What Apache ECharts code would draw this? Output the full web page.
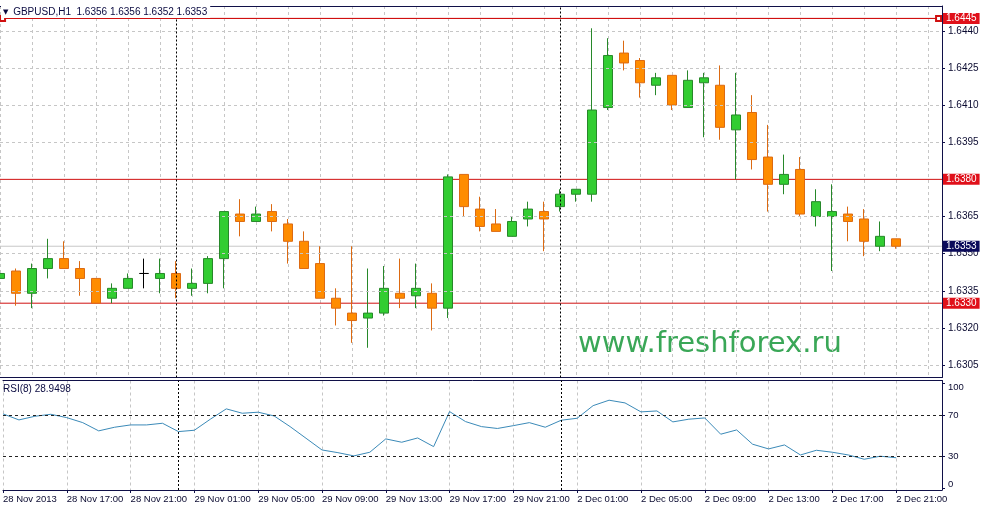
<!DOCTYPE html>
<html><head><meta charset="utf-8">
<script src="https://cdn.jsdelivr.net/npm/echarts@6/dist/echarts.min.js"></script>
<style>html,body{margin:0;padding:0;background:#fff}#c{width:983px;height:509px}</style>
</head><body><div id="c"></div>
<script>
// ---- data (GBPUSD H1, 28 Nov 13:00 .. 2 Dec 21:00) ----
const opens = [1.6340,1.6343,1.6334,1.6344,1.6348,1.6344,1.6340,1.6332,1.6336,1.6342,
 1.6340,1.6342,1.6336,1.6338,1.6348,1.6366,1.6363,1.6367,1.6362,1.6355,
 1.6346,1.6332,1.6326,1.6324,1.6326,1.6334,1.6333,1.6334,1.6328,1.6382,
 1.6368,1.6362,1.6357,1.6364,1.6367,1.6369,1.6374,1.6374,1.6409,1.6431,
 1.6428,1.6418,1.6422,1.6409,1.6419,1.6418,1.6400,1.6407,1.6389,1.6378,
 1.6384,1.6365,1.6365,1.6366,1.6364,1.6353,1.6356];
const closes = [1.6342,1.6334,1.6344,1.6348,1.6344,1.6340,1.6330,1.6336,1.6340,1.6342,
 1.6342,1.6336,1.6338,1.6348,1.6367,1.6363,1.6366,1.6363,1.6355,1.6344,
 1.6332,1.6328,1.6323,1.6326,1.6336,1.6332,1.6336,1.6328,1.6381,1.6369,
 1.6361,1.6359,1.6363,1.6368,1.6364,1.6374,1.6376,1.6408,1.6430,1.6427,
 1.6419,1.6421,1.6410,1.6420,1.6421,1.6401,1.6406,1.6388,1.6378,1.6382,
 1.6366,1.6371,1.6367,1.6363,1.6355,1.6357,1.6353];
const lows = [1.6328,1.6329,1.6328,1.6340,1.6344,1.6333,1.6330,1.6330,1.6336,1.6336,
 1.6334,1.6332,1.6333,1.6334,1.6336,1.6357,1.6363,1.6359,1.6346,1.6344,
 1.6332,1.6321,1.6314,1.6312,1.6325,1.6328,1.6328,1.6319,1.6324,1.6365,
 1.6359,1.6359,1.6357,1.6361,1.6351,1.6367,1.6371,1.6371,1.6408,1.6424,
 1.6413,1.6414,1.6408,1.6409,1.6397,1.6396,1.6380,1.6384,1.6367,1.6374,
 1.6365,1.6361,1.6343,1.6355,1.6349,1.6351,1.6352];
const highs = [1.6352,1.6344,1.6346,1.6356,1.6355,1.6347,1.6340,1.6338,1.6342,1.6348,
 1.6348,1.6347,1.6344,1.6349,1.6367,1.6372,1.6369,1.6370,1.6364,1.6359,
 1.6353,1.6336,1.6353,1.6344,1.6345,1.6348,1.6346,1.6338,1.6382,1.6382,
 1.6373,1.6368,1.6365,1.6371,1.6371,1.6376,1.6376,1.6441,1.6437,1.6436,
 1.6429,1.6423,1.6422,1.6424,1.6423,1.6426,1.6423,1.6414,1.6402,1.6390,
 1.6389,1.6376,1.6378,1.6369,1.6368,1.6363,1.6356];
const rsi = [71,65.2,68.7,70.6,67.4,62.6,54.7,58.2,60.4,60.4,
 62,54,55.3,65.9,75.8,71.6,72.6,69,58.8,47.6,
 36.4,33.8,30.7,34.2,47,43.8,47.9,39.6,73.2,63.6,
 58.8,57,59.7,62.6,58.2,64.9,66.8,78.9,84.1,81.5,
 72.9,73.8,63.3,65.9,67.1,51.5,55.6,41.9,37.4,41.2,
 31.6,36.1,34.2,31.6,27.5,30.4,28.9498];
const timeLabels = ['28 Nov 2013','28 Nov 17:00','28 Nov 21:00','29 Nov 01:00','29 Nov 05:00',
 '29 Nov 09:00','29 Nov 13:00','29 Nov 17:00','29 Nov 21:00','2 Dec 01:00','2 Dec 05:00',
 '2 Dec 09:00','2 Dec 13:00','2 Dec 17:00','2 Dec 21:00'];
const labelBars = [0,4,8,12,16,20,24,28,32,36,40,44,48,52,56];
const daySeparators = [11, 35];
const priceTicks = [1.6305,1.6320,1.6335,1.6350,1.6365,1.6380,1.6395,1.6410,1.6425,1.6440];
const rsiTicks = [0,30,70,100];
const rsiLevels = [70,30];
const levels = [1.6445,1.6380,1.6330];
const bid = 1.6353;
const symbolName = 'GBPUSD,H1';
const rsiName = 'RSI(8)';

// ---- layout ----
const xMin = 0, xMax = 58.875;
const navy = '#101048';
const gridGray = '#c6c6c6';
const levelRed = '#d01010';
const FONT = 'Liberation Sans';
const FS = 9.5;

const n = opens.length;
const candleData = opens.map((o,i)=>[i,o,closes[i],lows[i],highs[i]]);
const rsiData = rsi.map((v,i)=>[i,v]);
const last = n-1;
const titleText = symbolName + '  ' + [opens[last],highs[last],lows[last],closes[last]].map(v=>v.toFixed(4)).join(' ');

const chart = echarts.init(document.getElementById('c'), null, {renderer:'canvas'});

function helper(name, xi, yi, z, color, markLine){
  return {type:'line', name, xAxisIndex:xi, yAxisIndex:yi, data:[], z, silent:true,
    itemStyle:{color}, lineStyle:{color},
    markLine:Object.assign({silent:true, precision:6, symbol:['none','none'], animation:false, label:{show:false}}, markLine)};
}
function priceLine(name, v, color, labelBg, z){
  return {type:'line', name, xAxisIndex:0, yAxisIndex:0, z, silent:true, symbol:'none',
    data:[[xMin, v],[xMax, v]], color,
    lineStyle:{color, width:1, type:'solid'}, itemStyle:{color},
    endLabel:{show:true, distance:1, formatter:v.toFixed(4), color:'#fff', backgroundColor:labelBg,
      padding:[1,3,0,3], fontSize:FS+0.5, fontFamily:FONT}};
}

const option = {
  animation:false,
  backgroundColor:'#fff',
  textStyle:{fontFamily:FONT},
  title:[
    {text:'{t|▼} '+titleText, left:1, top:6, padding:[1,3,1,2], backgroundColor:'#fff',
     textStyle:{fontSize:FS+0.5, color:'#0a0a40', fontWeight:'normal', fontFamily:FONT,
       rich:{t:{fontSize:7, color:'#0a0a40', fontFamily:'DejaVu Sans', padding:[0,2,0,0]}}}},
    {text: rsiName + ' ' + rsi[last].toFixed(4), left:3, top:384, padding:0,
     textStyle:{fontSize:FS+0.5, color:'#0a0a40', fontWeight:'normal', fontFamily:FONT}}
  ],
  grid:[
    {left:0, right:41, top:6, height:371.5},
    {left:0, right:41, top:380.5, height:109.5}
  ],
  xAxis:[
    {gridIndex:0, type:'value', min:xMin, max:xMax, interval:2,
     axisLine:{show:true, onZero:false, lineStyle:{color:navy}}, axisTick:{show:false}, axisLabel:{show:false},
     splitLine:{show:true, lineStyle:{color:gridGray, type:[3,3]}}},
    {gridIndex:0, type:'value', position:'top', min:xMin, max:xMax,
     axisLine:{show:true, onZero:false, lineStyle:{color:navy}}, axisTick:{show:false}, axisLabel:{show:false}, splitLine:{show:false}},
    {gridIndex:1, type:'value', min:xMin, max:xMax, interval:2,
     axisLine:{show:true, onZero:false, lineStyle:{color:navy}},
     axisTick:{show:true, customValues:labelBars, length:3, lineStyle:{color:navy}},
     axisLabel:{show:true, customValues:labelBars, align:'left', margin:4, fontSize:FS, color:'#0a0a30', fontFamily:FONT,
       formatter:(v)=>{const k=labelBars.indexOf(Math.round(v)); return k>=0?timeLabels[k]:'';}},
     splitLine:{show:true, lineStyle:{color:gridGray, type:[3,3]}}},
    {gridIndex:1, type:'value', position:'top', min:xMin, max:xMax,
     axisLine:{show:true, onZero:false, lineStyle:{color:navy}}, axisTick:{show:false}, axisLabel:{show:false}, splitLine:{show:false}}
  ],
  yAxis:[
    {gridIndex:0, type:'value', position:'right', min:1.6300, max:1.6450,
     axisLine:{show:true, onZero:false, lineStyle:{color:navy}},
     axisTick:{show:true, customValues:priceTicks, length:3, lineStyle:{color:navy}},
     axisLabel:{show:true, customValues:priceTicks, margin:6, fontSize:FS+0.5, color:'#0a0a30', fontFamily:FONT,
       formatter:(v)=>v.toFixed(4)},
     splitLine:{show:false}},
    {gridIndex:1, type:'value', position:'right', min:-2, max:103,
     axisLine:{show:true, onZero:false, lineStyle:{color:navy}},
     axisTick:{show:true, customValues:rsiTicks, length:3, lineStyle:{color:navy}},
     axisLabel:{show:true, customValues:rsiTicks, margin:6, fontSize:FS, color:'#0a0a30', fontFamily:FONT,
       formatter:(v)=> v===100 ? '{a|100}' : (v===0 ? '{b|0}' : String(v)),
       rich:{a:{fontSize:FS, color:'#0a0a30', fontFamily:FONT, padding:[8,0,0,0]},
             b:{fontSize:FS, color:'#0a0a30', fontFamily:FONT, padding:[0,0,8,0]}}},
     splitLine:{show:false}}
  ],
  series:[
    helper('grid', 0, 0, 1, gridGray, {lineStyle:{color:gridGray, type:[3,3], width:1},
      data: priceTicks.filter(v=>levels.indexOf(v) < 0).map(v=>({yAxis:v}))}),
    helper('separators', 0, 0, 1, '#000', {lineStyle:{color:'#000', type:[2,2], width:1},
      data: daySeparators.map(b=>({xAxis:b}))}),
    priceLine('bid', bid, '#c8c8c8', '#0a0a5a', 2)
  ].concat(levels.map((v,i)=>priceLine('level'+i, v, levelRed, '#e0101a', 2))).concat([
    helper('handles', 0, 0, 4, levelRed, {symbol:['emptyRect','emptyRect'], symbolSize:5,
      lineStyle:{color:levelRed, width:1, type:'solid'},
      data:[[{coord:[0.16, levels[0]]},{coord:[58.66, levels[0]]}]]}),
    {type:'candlestick', name:symbolName, xAxisIndex:0, yAxisIndex:0, z:3,
     data:candleData, encode:{x:0, y:[1,2,3,4]}, barWidth:10,
     itemStyle:{color:'#32cd32', color0:'#ff8c00', borderColor:'#27882a', borderColor0:'#dc6a12', borderColorDoji:'#000', borderWidth:1}},
    helper('rsiLevels', 2, 1, 1, '#222', {lineStyle:{color:'#222', type:[3,3], width:1},
      data: rsiLevels.map(v=>({yAxis:v}))}),
    helper('rsiSeparators', 2, 1, 1, '#000', {lineStyle:{color:'#000', type:[2,2], width:1},
      data: daySeparators.map(b=>({xAxis:b}))}),
    {type:'line', name:rsiName, xAxisIndex:2, yAxisIndex:1, z:3, data:rsiData, symbol:'none',
     lineStyle:{color:'#3b8ab8', width:1}}
  ]),
  graphic:[
    {type:'text', left:578, top:330, z:0, silent:true,
     style:{text:'www.freshforex.ru', fill:'#3aa757', font:'29px "DejaVu Sans"'}}
  ]
};
chart.setOption(option);
</script>
</body></html>
